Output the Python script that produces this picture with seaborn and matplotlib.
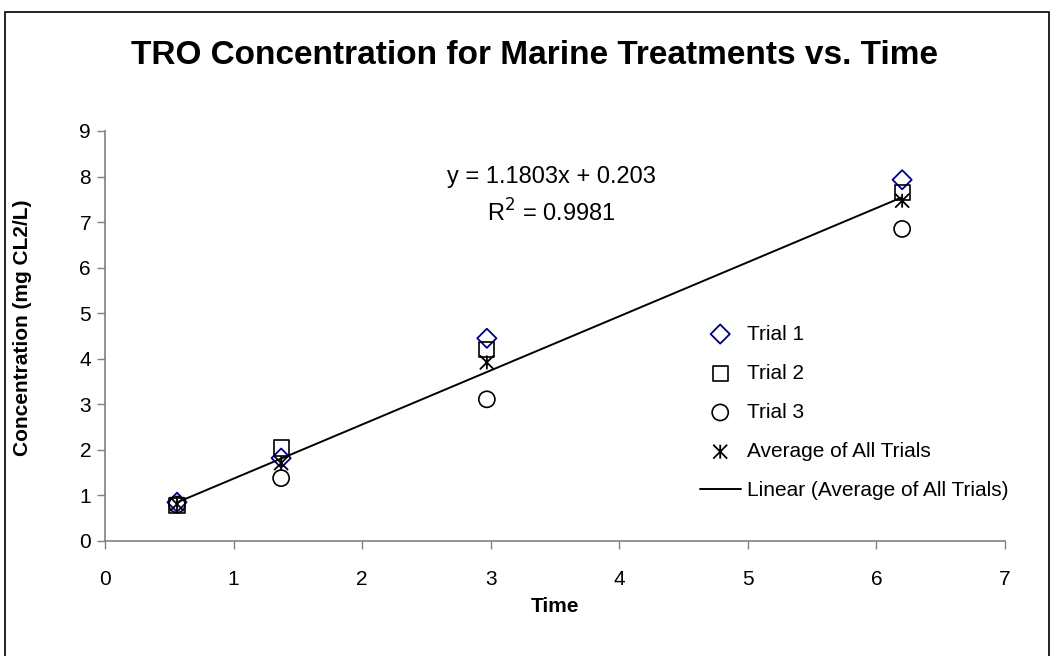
import numpy as np
import pandas as pd
import matplotlib.pyplot as plt
from matplotlib.path import Path
from matplotlib.patches import Rectangle
import seaborn as sns

sns.set_theme(style="white")
plt.rcParams['font.family'] = ['Liberation Sans', 'DejaVu Sans']
plt.rcParams['text.color'] = 'black'
plt.rcParams['axes.labelcolor'] = 'black'
plt.rcParams['xtick.color'] = 'black'
plt.rcParams['ytick.color'] = 'black'

# time points (hours) and TRO readings per trial
time = [0.56, 1.37, 2.97, 6.2]
trial1 = [0.85, 1.82, 4.45, 7.93]
trial2 = [0.78, 2.04, 4.20, 7.65]
trial3 = [0.80, 1.38, 3.11, 6.85]
average = [0.81, 1.71, 3.92, 7.47]

eq_text = "y = 1.1803x + 0.203"
r2_text = "R$^2$ = 0.9981"

# Excel style star: an X with a vertical bar through it
star = Path([(-1, -1), (1, 1), (-1, 1), (1, -1), (0, -1), (0, 1)],
            [Path.MOVETO, Path.LINETO, Path.MOVETO, Path.LINETO, Path.MOVETO, Path.LINETO])

fig = plt.figure(figsize=(10.55, 6.56), dpi=100)
ax = fig.add_axes([105 / 1055, 115 / 656, 900 / 1055, 410 / 656])

sns.scatterplot(x=time, y=trial1, marker='D', s=95, facecolor='none',
                edgecolor='#000080', linewidth=1.3, label='Trial 1', ax=ax)
sns.scatterplot(x=time, y=trial2, marker='s', s=120, facecolor='none',
                edgecolor='black', linewidth=1.2, label='Trial 2', ax=ax)
sns.scatterplot(x=time, y=trial3, marker='o', s=135, facecolor='none',
                edgecolor='black', linewidth=1.2, label='Trial 3', ax=ax)
sns.scatterplot(x=time, y=average, marker=star, s=100, facecolor='none',
                edgecolor='black', linewidth=1.3, label='Average of All Trials', ax=ax)
sns.regplot(x=time, y=average, scatter=False, ci=None, truncate=True,
            line_kws=dict(color='black', linewidth=1.4), ax=ax)
ax.lines[-1].set_label('Linear (Average of All Trials)')

ax.set_xlim(0, 7)
ax.set_ylim(0, 9)
ax.set_xticks(range(0, 8))
ax.set_yticks(range(0, 10))
ax.tick_params(axis='both', labelsize=15, length=6, width=1, color='#808080',
               direction='out', bottom=True, left=True)
ax.tick_params(axis='x', pad=15)
ax.tick_params(axis='y', pad=4)
for side in ['top', 'right']:
    ax.spines[side].set_visible(False)
for side in ['left', 'bottom']:
    ax.spines[side].set_color('#808080')
    ax.spines[side].set_linewidth(1.2)

ax.set_xlabel('Time', fontsize=15, fontweight='bold', labelpad=6)
ax.set_ylabel('Concentration (mg CL2/L)', fontsize=15, fontweight='bold')
ax.yaxis.set_label_coords(-0.081, 0.52)

ax.text(3.47, 8.0, eq_text, fontsize=17, ha='center', va='center')
ax.text(3.47, 7.2, r2_text, fontsize=17, ha='center', va='center')

ax.legend(loc='upper left', bbox_to_anchor=(0.661, 0.528), frameon=False,
          fontsize=15, labelspacing=0.97, handlelength=1.95, handletextpad=0.3,
          borderpad=0, borderaxespad=0)

fig.text(0.507, 0.915, 'TRO Concentration for Marine Treatments vs. Time',
         fontsize=24, fontweight='bold', ha='center', va='center')

fig.patches.append(Rectangle((5 / 1055, -0.02), 1044 / 1055, 1 - 12 / 656 + 0.02,
                             transform=fig.transFigure, fill=False,
                             edgecolor='black', linewidth=1.2))

fig.savefig('out.png', dpi=100)
